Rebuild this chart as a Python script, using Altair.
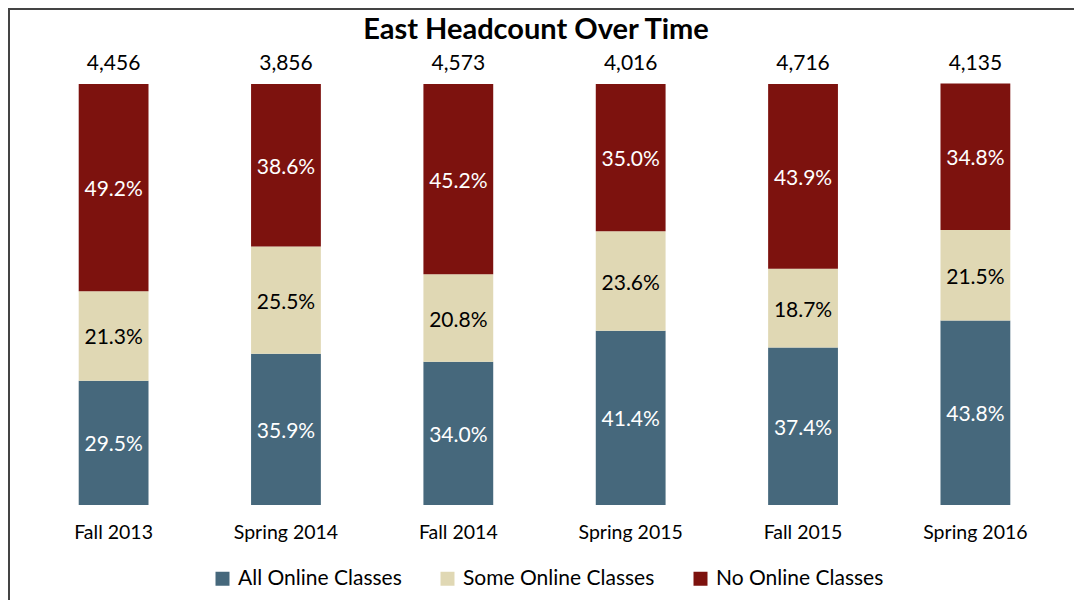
import altair as alt
import pandas as pd

title_text = "East Headcount Over Time"
terms = ["Fall 2013", "Spring 2014", "Fall 2014", "Spring 2015", "Fall 2015", "Spring 2016"]
totals = [4456, 3856, 4573, 4016, 4716, 4135]
all_online = [29.5, 35.9, 34.0, 41.4, 37.4, 43.8]
some_online = [21.3, 25.5, 20.8, 23.6, 18.7, 21.5]
no_online = [49.2, 38.6, 45.2, 35.0, 43.9, 34.8]
series = ["All Online Classes", "Some Online Classes", "No Online Classes"]
colors = ["#46687C", "#E0D8B4", "#7D120E"]
text_colors = ["white", "black", "white"]

rows = []
for i, t in enumerate(terms):
    for k, (name, vals) in enumerate(zip(series, [all_online, some_online, no_online])):
        rows.append({"term": t, "series": name, "order": k, "pct": vals[i],
                     "label": f"{vals[i]:.1f}%", "tcolor": text_colors[k]})
df = pd.DataFrame(rows)
tot_df = pd.DataFrame({"term": terms, "total": [f"{v:,}" for v in totals], "top": [100] * len(terms)})

FONT = "Lato"

x = alt.X("term:N", sort=terms, title=None,
          scale=alt.Scale(paddingInner=0.595, paddingOuter=0.3),
          axis=alt.Axis(labelAngle=0, domain=False, ticks=False, labelPadding=18,
                        labelFontSize=19.5, labelColor="black", labelFont=FONT))

base = alt.Chart(df).transform_stack(
    stack="pct", groupby=["term"], as_=["y0", "y1"], sort=[alt.SortField("order")]
).transform_calculate(mid="(datum.y0 + datum.y1) / 2")

bars = base.mark_bar().encode(
    x=x,
    y=alt.Y("y0:Q", scale=alt.Scale(domain=[0, 100], nice=False), axis=None),
    y2="y1:Q",
    color=alt.Color("series:N", sort=series,
                    scale=alt.Scale(domain=series, range=colors),
                    legend=alt.Legend(title=None, orient="none", direction="horizontal",
                                      legendX=185, legendY=484, symbolType="square",
                                      symbolSize=196, symbolStrokeWidth=0,
                                      labelFontSize=21, labelFont=FONT, labelColor="black",
                                      labelLimit=0, columnPadding=35, labelOffset=5)),
)

labels = base.mark_text(fontSize=21, font=FONT, dy=2.5).encode(
    x=alt.X("term:N", sort=terms),
    y=alt.Y("mid:Q"),
    text="label:N",
    color=alt.Color("tcolor:N", scale=None),
)

tots = alt.Chart(tot_df).mark_text(fontSize=21, font=FONT, baseline="alphabetic", dy=-14, color="black").encode(
    x=alt.X("term:N", sort=terms),
    y=alt.Y("top:Q"),
    text="total:N",
)

title = alt.Chart(pd.DataFrame({"t": [title_text]})).mark_text(
    fontSize=29, font=FONT, fontWeight="bold", color="black", baseline="middle", align="center"
).encode(x=alt.value(509), y=alt.value(-54), text="t:N")

border = alt.Chart(pd.DataFrame({"a": [0]})).mark_rect(
    fill=None, stroke="#444444", strokeWidth=2
).encode(x=alt.value(-18), x2=alt.value(1100), y=alt.value(-75), y2=alt.value(600))

chart = alt.layer(border, bars, labels, tots, title).properties(
    width=1035, height=421,
    autosize=alt.AutoSizeParams(type="none"),
    padding={"left": 19, "top": 76, "right": 12, "bottom": 95},
).configure_view(stroke=None)

chart.save("out.html", embed_options={"renderer": "svg", "actions": False})
